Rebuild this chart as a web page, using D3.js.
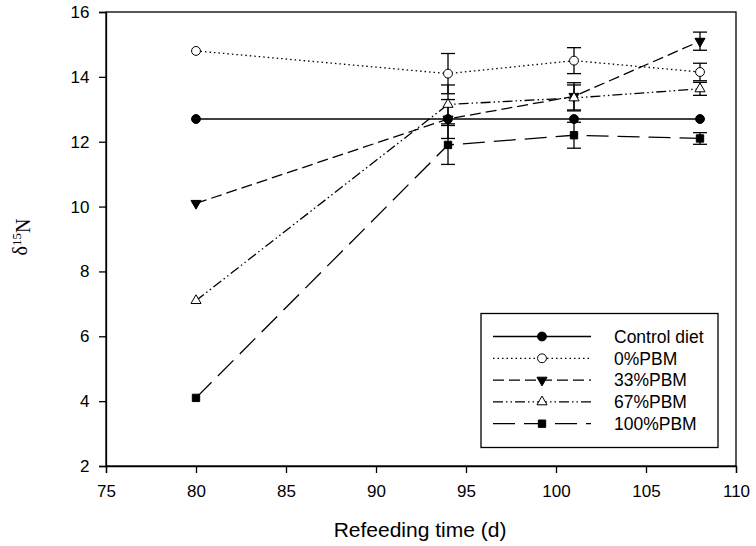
<!DOCTYPE html>
<html><head><meta charset="utf-8">
<script src="https://cdn.jsdelivr.net/npm/d3@7"></script>
<style>body{margin:0;background:#fff}svg{display:block}</style>
</head><body>
<script>
const days = [80, 94, 101, 108];
const seriesNames = ["Control diet", "0%PBM", "33%PBM", "67%PBM", "100%PBM"];
const controlVals = [12.7, 12.7, 12.7, 12.7];
const pbm0Vals = [14.8, 14.1, 14.5, 14.15];
const pbm33Vals = [10.1, 12.7, 13.4, 15.1];
const pbm67Vals = [7.1, 13.15, 13.35, 13.63];
const pbm100Vals = [4.1, 11.9, 12.2, 12.1];
const controlErr = [0, 0, 0, 0];
const pbm0Err = [0, 0.62, 0.4, 0.27];
const pbm33Err = [0, 0.6, 0.42, 0.28];
const pbm67Err = [0, 0.6, 0.4, 0.2];
const pbm100Err = [0, 0.6, 0.4, 0.18];
const xTicks = [75, 80, 85, 90, 95, 100, 105, 110];
const yTicks = [2, 4, 6, 8, 10, 12, 14, 16];

const W = 756, H = 546;
const svg = d3.select("body").append("svg").attr("width", W).attr("height", H);
const x = d3.scaleLinear().domain([75, 110]).range([106, 736]);
const y = d3.scaleLinear().domain([2, 16]).range([466, 12]);

const styles = [
  {dash: null, sym: d3.symbolCircle, size: 62, fill: "#000", rot: 0},
  {dash: "1.5,3", sym: d3.symbolCircle, size: 62, fill: "#fff", rot: 0},
  {dash: "11,5", sym: d3.symbolTriangle, size: 44, fill: "#000", rot: 180},
  {dash: "10,3,1.5,3,1.5,3", sym: d3.symbolTriangle, size: 44, fill: "#fff", rot: 0},
  {dash: "22,9", sym: d3.symbolSquare, size: 54, fill: "#000", rot: 0}
];
const allVals = [controlVals, pbm0Vals, pbm33Vals, pbm67Vals, pbm100Vals];
const allErr = [controlErr, pbm0Err, pbm33Err, pbm67Err, pbm100Err];
const series = seriesNames.map((n, i) => ({
  name: n, style: styles[i],
  pts: days.map((d, j) => ({d, v: allVals[i][j], e: allErr[i][j]}))
}));

// frame
svg.append("rect").attr("x", 106).attr("y", 12).attr("width", 630).attr("height", 454)
  .attr("fill", "none").attr("stroke", "#000").attr("stroke-width", 1.3);

const font = "'Liberation Sans', Arial, sans-serif";
const xAxis = svg.append("g").attr("transform", "translate(0,466)")
  .call(d3.axisBottom(x).tickValues(xTicks).tickSize(7).tickPadding(12));
const yAxis = svg.append("g").attr("transform", "translate(106,0)")
  .call(d3.axisLeft(y).tickValues(yTicks).tickSize(7).tickPadding(9.5));
[xAxis, yAxis].forEach(g => {
  g.select(".domain").attr("stroke", "#000").attr("stroke-width", 1.3);
  g.selectAll(".tick line").attr("stroke", "#000").attr("stroke-width", 1.3);
  g.selectAll(".tick text").attr("fill", "#000").style("font-family", font).style("font-size", "17px");
});

// axis titles
svg.append("text").attr("x", 420).attr("y", 537).attr("text-anchor", "middle")
  .style("font-family", font).style("font-size", "21px").text("Refeeding time (d)");
const yl = svg.append("text").attr("transform", "translate(27,237) rotate(-90)")
  .attr("text-anchor", "middle").style("font-family", "'Liberation Serif', 'Times New Roman', serif")
  .style("font-size", "20px");
yl.append("tspan").text("δ");
yl.append("tspan").attr("dy", "-0.45em").style("font-size", "13px").text("15");
yl.append("tspan").attr("dy", "0.45em").text("N");

// error bars
series.forEach(s => {
  s.pts.filter(p => p.e > 0).forEach(p => {
    const g = svg.append("g").attr("stroke", "#000").attr("stroke-width", 1.3);
    const cx = x(p.d);
    g.append("line").attr("x1", cx).attr("x2", cx).attr("y1", y(p.v + p.e)).attr("y2", y(p.v - p.e));
    [p.v + p.e, p.v - p.e].forEach(v => g.append("line")
      .attr("x1", cx - 7).attr("x2", cx + 7).attr("y1", y(v)).attr("y2", y(v)));
  });
});

// lines
const line = d3.line().x(p => x(p.d)).y(p => y(p.v));
series.forEach(s => {
  svg.append("path").attr("d", line(s.pts)).attr("fill", "none").attr("stroke", "#000")
    .attr("stroke-width", 1.3).attr("stroke-dasharray", s.style.dash);
});
// markers
function marker(g, st, cx, cy) {
  g.append("path").attr("d", d3.symbol().type(st.sym).size(st.size)())
    .attr("transform", `translate(${cx},${cy}) rotate(${st.rot})`)
    .attr("fill", st.fill).attr("stroke", "#000").attr("stroke-width", 1);
}
series.forEach(s => {
  const g = svg.append("g");
  s.pts.forEach(p => marker(g, s.style, x(p.d), y(p.v)));
});

// legend
const lg = svg.append("g");
lg.append("rect").attr("x", 481).attr("y", 313.5).attr("width", 237).attr("height", 134)
  .attr("fill", "#fff").attr("stroke", "#000").attr("stroke-width", 1.3);
series.forEach((s, i) => {
  const ly = 336.5 + i * 21.8;
  lg.append("line").attr("x1", 493).attr("x2", 591).attr("y1", ly).attr("y2", ly)
    .attr("stroke", "#000").attr("stroke-width", 1.3).attr("stroke-dasharray", s.style.dash);
  marker(lg, s.style, 542, ly);
  lg.append("text").attr("x", 614).attr("y", ly).attr("dy", "0.36em")
    .style("font-family", font).style("font-size", "17.5px").text(s.name);
});
</script>
</body></html>
